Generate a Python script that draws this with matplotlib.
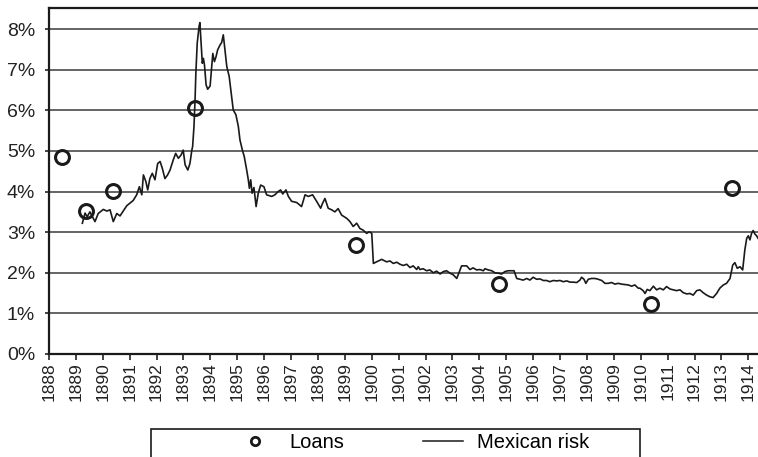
import matplotlib
matplotlib.use("Agg")
import matplotlib.pyplot as plt
from matplotlib.lines import Line2D
from matplotlib.patches import Rectangle

plt.rcParams['font.family'] = ['Liberation Sans', 'DejaVu Sans']

# Loans (yield at issue, %)
loan_years = [1888.48, 1889.38, 1890.38, 1893.43, 1899.41, 1904.73, 1910.38, 1913.39]
loan_rates = [4.85, 3.52, 4.02, 6.05, 2.68, 1.72, 1.22, 4.08]

# Mexican risk (spread, %)
risk_years = [
    1889.24, 1889.34, 1889.42, 1889.52, 1889.71, 1889.83, 1890.02, 1890.15, 1890.27, 1890.39,
    1890.52, 1890.64, 1890.76, 1890.89, 1891.04, 1891.13, 1891.26, 1891.36, 1891.45, 1891.51,
    1891.60, 1891.67, 1891.75, 1891.84, 1891.94, 1892.04, 1892.13, 1892.21, 1892.31, 1892.41,
    1892.50, 1892.62, 1892.71, 1892.81, 1892.91, 1892.99, 1893.06, 1893.16, 1893.24, 1893.31,
    1893.34, 1893.39, 1893.43, 1893.46, 1893.51, 1893.58, 1893.61, 1893.65, 1893.70, 1893.74,
    1893.78, 1893.84, 1893.90, 1893.99, 1894.05, 1894.09, 1894.15, 1894.21, 1894.27, 1894.36,
    1894.42, 1894.48, 1894.54, 1894.61, 1894.70, 1894.79, 1894.85, 1894.95, 1895.04, 1895.10,
    1895.19, 1895.26, 1895.35, 1895.41, 1895.45, 1895.50, 1895.55, 1895.62, 1895.70, 1895.78,
    1895.87, 1895.99, 1896.09, 1896.28, 1896.40, 1896.52, 1896.61, 1896.69, 1896.81, 1896.90,
    1897.02, 1897.21, 1897.39, 1897.52, 1897.64, 1897.80, 1897.95, 1898.10, 1898.17, 1898.26,
    1898.38, 1898.51, 1898.63, 1898.75, 1898.88, 1899.07, 1899.19, 1899.31, 1899.44, 1899.56,
    1899.68, 1899.81, 1899.91, 1900.00, 1900.06, 1900.18, 1900.37, 1900.55, 1900.68, 1900.80,
    1900.93, 1901.05, 1901.17, 1901.30, 1901.42, 1901.54, 1901.67, 1901.73, 1901.79, 1901.91,
    1902.04, 1902.16, 1902.29, 1902.41, 1902.54, 1902.66, 1902.78, 1902.91, 1903.03, 1903.16,
    1903.28, 1903.34, 1903.53, 1903.65, 1903.77, 1903.90, 1904.02, 1904.15, 1904.21, 1904.33,
    1904.46, 1904.58, 1904.70, 1904.83, 1904.95, 1905.07, 1905.29, 1905.39, 1905.51, 1905.63,
    1905.76, 1905.88, 1906.00, 1906.13, 1906.25, 1906.38, 1906.50, 1906.62, 1906.75, 1906.87,
    1907.00, 1907.12, 1907.25, 1907.37, 1907.49, 1907.62, 1907.74, 1907.80, 1907.89, 1907.96,
    1908.05, 1908.17, 1908.30, 1908.42, 1908.55, 1908.67, 1908.79, 1908.92, 1909.04, 1909.16,
    1909.29, 1909.41, 1909.54, 1909.66, 1909.78, 1909.91, 1909.97, 1910.09, 1910.16, 1910.24,
    1910.34, 1910.47, 1910.59, 1910.71, 1910.84, 1910.96, 1911.09, 1911.21, 1911.33, 1911.46,
    1911.58, 1911.71, 1911.83, 1911.95, 1912.08, 1912.20, 1912.32, 1912.45, 1912.57, 1912.69,
    1912.82, 1912.94, 1913.07, 1913.19, 1913.32, 1913.42, 1913.50, 1913.59, 1913.69, 1913.79,
    1913.87, 1913.94, 1914.00, 1914.06, 1914.12, 1914.18, 1914.25, 1914.31, 1914.36,
]
risk_rates = [
    3.22, 3.47, 3.38, 3.50, 3.26, 3.46, 3.56, 3.52, 3.55, 3.26,
    3.46, 3.40, 3.52, 3.65, 3.73, 3.78, 3.92, 4.12, 3.92, 4.41,
    4.25, 4.04, 4.32, 4.45, 4.29, 4.69, 4.74, 4.58, 4.32, 4.41,
    4.53, 4.78, 4.94, 4.82, 4.90, 5.02, 4.66, 4.53, 4.69, 5.02,
    5.11, 5.60, 6.26, 6.91, 7.65, 8.07, 8.16, 7.73, 7.16, 7.28,
    7.12, 6.63, 6.52, 6.60, 7.08, 7.40, 7.20, 7.32, 7.49, 7.61,
    7.67, 7.86, 7.49, 7.08, 6.83, 6.34, 6.01, 5.89, 5.60, 5.27,
    5.02, 4.86, 4.53, 4.29, 4.08, 4.29, 3.96, 4.10, 3.63, 3.96,
    4.16, 4.12, 3.92, 3.88, 3.92, 4.00, 4.04, 3.94, 4.04, 3.88,
    3.76, 3.73, 3.63, 3.92, 3.88, 3.92, 3.76, 3.59, 3.71, 3.83,
    3.59, 3.55, 3.50, 3.58, 3.42, 3.34, 3.26, 3.14, 3.22, 3.09,
    3.05, 2.97, 3.01, 2.97, 2.23, 2.27, 2.33, 2.27, 2.29, 2.23,
    2.26, 2.21, 2.18, 2.21, 2.13, 2.17, 2.08, 2.15, 2.08, 2.10,
    2.05, 2.07, 2.00, 2.04, 1.97, 2.03, 2.05, 1.99, 1.95, 1.86,
    2.07, 2.17, 2.17, 2.08, 2.12, 2.07, 2.08, 2.05, 2.10, 2.07,
    2.05, 2.00, 1.99, 1.97, 2.03, 2.05, 2.05, 1.86, 1.84, 1.82,
    1.86, 1.82, 1.89, 1.84, 1.85, 1.81, 1.81, 1.78, 1.81, 1.80,
    1.81, 1.78, 1.80, 1.77, 1.77, 1.76, 1.82, 1.89, 1.84, 1.74,
    1.84, 1.86, 1.86, 1.84, 1.81, 1.74, 1.74, 1.76, 1.72, 1.74,
    1.72, 1.71, 1.70, 1.67, 1.70, 1.62, 1.62, 1.56, 1.49, 1.59,
    1.56, 1.67, 1.58, 1.62, 1.58, 1.66, 1.60, 1.58, 1.56, 1.58,
    1.51, 1.48, 1.49, 1.45, 1.56, 1.58, 1.51, 1.45, 1.41, 1.39,
    1.49, 1.62, 1.70, 1.74, 1.86, 2.19, 2.25, 2.11, 2.15, 2.07,
    2.56, 2.85, 2.91, 2.81, 2.97, 3.04, 2.95, 2.91, 2.85,
]

tick_years = list(range(1888, 1915))
pct_ticks = list(range(0, 9))

fig = plt.figure(figsize=(7.58, 4.57), dpi=100)
ax = fig.add_axes([49 / 758, 1 - 354 / 457, 1 - 49 / 758, 346 / 457])

ax.plot(risk_years, risk_rates, color='#1a1a1a', lw=1.2, zorder=3)
ax.plot(loan_years, loan_rates, linestyle='none', marker='o', markersize=10,
        markerfacecolor='none', markeredgecolor='#1a1a1a', markeredgewidth=2.2,
        zorder=4, clip_on=False)

ax.set_xlim(1888, 1914.36)
ax.set_ylim(0, 8.52)
ax.set_xticks(tick_years)
ax.set_xticklabels([str(y) for y in tick_years], rotation=90, fontsize=12.5)
ax.set_yticks(pct_ticks)
ax.set_yticklabels([f"{p}%" for p in pct_ticks], fontsize=14)
ax.tick_params(axis='x', length=4, width=1.2, pad=2, colors='#222222')
ax.tick_params(axis='y', length=3, width=1.2, pad=7, colors='#222222')

ax.yaxis.grid(True, color='#3a3a3a', lw=1.1)
ax.set_axisbelow(True)
for side in ['left', 'bottom', 'top']:
    ax.spines[side].set_color('#1a1a1a')
    ax.spines[side].set_linewidth(1.6)
ax.spines['right'].set_visible(False)

handles = [
    Line2D([], [], linestyle='none', marker='o', markersize=6, markerfacecolor='none',
           markeredgecolor='#1a1a1a', markeredgewidth=2),
    Line2D([], [], color='#1a1a1a', lw=1.1),
]
fig.legend(handles, ['Loans', 'Mexican risk'], loc='center', ncol=2,
           bbox_to_anchor=(412 / 758, 1 - 443 / 457), frameon=False,
           fontsize=14.5, handlelength=2.0, handletextpad=0.7, columnspacing=3.9)
fig.add_artist(Rectangle((151 / 758, -0.1), 489 / 758, 0.1 + 28 / 457,
                         transform=fig.transFigure, fill=False,
                         edgecolor='#1a1a1a', lw=1.2))

fig.savefig('out.png', dpi=100)
